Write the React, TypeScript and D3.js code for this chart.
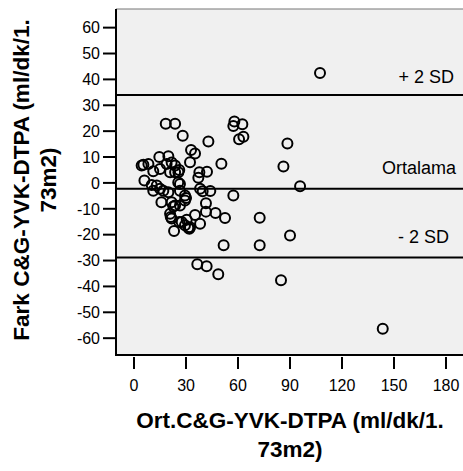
import React, { useEffect, useRef } from "react";
import * as d3 from "d3";

// mean of the two methods (x) and difference (y)
const meanValues = [
  107.3, 18.3, 23.7, 28.1, 42.9, 57.9, 57.3, 62.5, 60.6, 63.1, 88.5, 32.9, 35.2, 14.6, 19.8,
  4.4, 5.4, 8.3, 11.1, 15.0, 18.8, 21.7, 23.7, 23.7, 26.1, 20.8, 32.3, 50.4, 37.7, 42.1,
  37.1, 86.2, 6.0, 10.2, 13.1, 11.1, 15.0, 16.9, 19.8, 25.5, 26.5, 26.5, 29.4, 30.0, 29.4,
  38.1, 39.6, 44.0, 57.3, 95.8, 15.8, 21.7, 23.7, 26.5, 41.5, 20.8, 21.7, 26.1, 30.4, 35.2,
  41.5, 47.0, 52.5, 72.5, 38.1, 29.4, 31.3, 32.3, 23.1, 90.0, 51.7, 72.5, 36.5, 41.9, 48.6,
  84.8, 143.5, 25.6, 22.7, 21.2, 31.9, 27.5,
];
const diffValues = [
  42.5, 22.9, 22.9, 18.2, 16.0, 23.7, 22.0, 22.7, 16.9, 17.8, 15.2, 12.7, 11.4, 10.0, 10.3,
  6.7, 7.0, 7.3, 4.5, 5.4, 7.3, 7.9, 6.7, 4.1, 5.0, 4.1, 8.0, 7.4, 4.1, 4.3,
  2.0, 6.3, 0.9, -0.8, -1.0, -3.0, -2.3, -3.0, -3.6, 0.2, -0.4, -3.0, -4.9, -5.8, -6.8,
  -2.3, -3.2, -3.1, -4.9, -1.3, -7.5, -7.5, -8.7, -8.7, -7.9, -11.9, -13.8, -15.1, -14.2, -12.4,
  -11.1, -11.6, -13.6, -13.5, -15.8, -16.4, -17.3, -17.1, -18.6, -20.3, -24.1, -24.1, -31.4, -32.2, -35.3,
  -37.6, -56.4, 4.1, -9.1, -13.2, -17.7, -15.1,
];

const xTicks = [0, 30, 60, 90, 120, 150, 180];
const yTicks = [60, 50, 40, 30, 20, 10, 0, -10, -20, -30, -40, -50, -60];

const refLines = [
  { label: "+ 2 SD", value: 34.0 },
  { label: "Ortalama", value: -2.3 },
  { label: "- 2 SD", value: -28.8 },
];

const App = () => {
  const svgRef = useRef<SVGSVGElement>(null);

  useEffect(() => {
    document.body.style.margin = "0";

    const width = 463;
    const height = 471;
    const left = 116;
    const top = 9;
    const bottom = 355;
    const right = 470;

    const svg = d3.select(svgRef.current);
    svg.selectAll("*").remove();
    svg.attr("width", width).attr("height", height).style("display", "block");

    const font = "Liberation Sans, Arial, sans-serif";

    const x = d3.scaleLinear().domain([-10.4, 189.8]).range([left, 463]);
    const y = d3.scaleLinear().domain([-66.5, 67.2]).range([bottom, top]);

    svg.append("rect").attr("width", width).attr("height", height).attr("fill", "#ffffff");

    svg
      .append("rect")
      .attr("x", left)
      .attr("y", top)
      .attr("width", right - left)
      .attr("height", bottom - top)
      .attr("fill", "#f0f0f0");

    // frame
    svg
      .append("line")
      .attr("x1", left)
      .attr("x2", right)
      .attr("y1", top)
      .attr("y2", top)
      .attr("stroke", "#777")
      .attr("stroke-width", 1.2);
    svg
      .append("line")
      .attr("x1", left)
      .attr("x2", right)
      .attr("y1", bottom)
      .attr("y2", bottom)
      .attr("stroke", "#000")
      .attr("stroke-width", 2);
    svg
      .append("line")
      .attr("x1", left)
      .attr("x2", left)
      .attr("y1", top)
      .attr("y2", bottom + 1)
      .attr("stroke", "#000")
      .attr("stroke-width", 2);

    // y axis
    const yAxis = svg.append("g");
    yTicks.forEach((t) => {
      yAxis
        .append("line")
        .attr("x1", left - 13)
        .attr("x2", left)
        .attr("y1", y(t))
        .attr("y2", y(t))
        .attr("stroke", "#000")
        .attr("stroke-width", 2);
      yAxis
        .append("text")
        .attr("x", left - 16)
        .attr("y", y(t))
        .attr("dy", "0.36em")
        .attr("text-anchor", "end")
        .attr("font-family", font)
        .attr("font-size", 16)
        .text(t);
    });

    // x axis
    const xAxis = svg.append("g");
    xTicks.forEach((t) => {
      xAxis
        .append("line")
        .attr("x1", x(t))
        .attr("x2", x(t))
        .attr("y1", bottom + 2)
        .attr("y2", bottom + 14)
        .attr("stroke", "#000")
        .attr("stroke-width", 2);
      xAxis
        .append("text")
        .attr("x", x(t))
        .attr("y", 391)
        .attr("text-anchor", "middle")
        .attr("font-family", font)
        .attr("font-size", 16)
        .text(t);
    });

    // reference lines
    refLines.forEach((r) => {
      svg
        .append("line")
        .attr("x1", left)
        .attr("x2", right)
        .attr("y1", y(r.value))
        .attr("y2", y(r.value))
        .attr("stroke", "#000")
        .attr("stroke-width", 2);
    });
    const labelPos = [
      { x: 454, y: 83 },
      { x: 456, y: 174 },
      { x: 449, y: 243 },
    ];
    refLines.forEach((r, i) => {
      svg
        .append("text")
        .attr("x", labelPos[i].x)
        .attr("y", labelPos[i].y)
        .attr("text-anchor", "end")
        .attr("font-family", font)
        .attr("font-size", 18)
        .text(r.label);
    });

    // points
    svg
      .append("g")
      .selectAll("circle")
      .data(meanValues.map((m, i) => ({ m, d: diffValues[i] })))
      .enter()
      .append("circle")
      .attr("cx", (p) => x(p.m))
      .attr("cy", (p) => y(p.d))
      .attr("r", 5)
      .attr("fill", "none")
      .attr("stroke", "#000")
      .attr("stroke-width", 2);

    // axis titles
    const xTitle = svg
      .append("text")
      .attr("text-anchor", "middle")
      .attr("font-family", font)
      .attr("font-size", 22.5)
      .attr("font-weight", "bold");
    xTitle.append("tspan").attr("x", 290).attr("y", 428).text("Ort.C&G-YVK-DTPA (ml/dk/1.");
    xTitle.append("tspan").attr("x", 290).attr("y", 457).text("73m2)");

    const yTitle = svg
      .append("text")
      .attr("transform", "translate(0,180) rotate(-90)")
      .attr("text-anchor", "middle")
      .attr("font-family", font)
      .attr("font-size", 22.5)
      .attr("font-weight", "bold");
    yTitle.append("tspan").attr("x", 0).attr("y", 29).text("Fark C&G-YVK-DTPA (ml/dk/1.");
    yTitle.append("tspan").attr("x", 0).attr("y", 56).text("73m2)");
  }, []);

  return <svg ref={svgRef}></svg>;
};

export default App;
